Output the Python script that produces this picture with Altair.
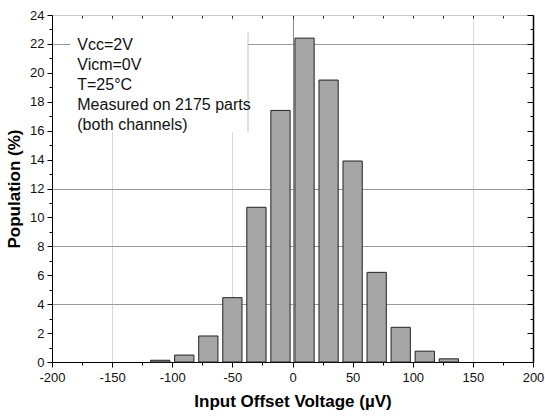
import altair as alt
import pandas as pd

# Histogram data
centers = [-110, -90, -70, -50, -30, -10, 10, 30, 50, 70, 90, 110, 130]
population = [0.12, 0.48, 1.8, 4.45, 10.7, 17.4, 22.4, 19.5, 13.9, 6.2, 2.4, 0.75, 0.22]
half_bin = 8

x_ticks = list(range(-200, 201, 25))
y_ticks = list(range(0, 25))

annotation_lines = ["Vcc=2V", "Vicm=0V", "T=25°C", "Measured on 2175 parts", "(both channels)"]
# annotation box extents (data units)
box_x = [-185, -37]
box_y = [15.9, 23.6]

df = pd.DataFrame({"center": centers, "pop": population})
box_df = pd.DataFrame({"x0": [box_x[0]], "x1": [box_x[1]], "y0": [box_y[0]], "y1": [box_y[1]]})

FONT = "Liberation Sans"
W, H = 481, 347


def xscale():
    return alt.Scale(domain=[-200, 200], nice=False, zero=False)


def yscale():
    return alt.Scale(domain=[0, 24], nice=False, zero=False)


bottom_axis = alt.Axis(
    orient="bottom",
    values=x_ticks,
    labelExpr="datum.value % 50 === 0 ? '' + datum.value : ''",
    tickSize={"condition": {"test": "datum.value % 50 === 0", "value": 5}, "value": 3},
    tickColor="black", domainColor="black", labelColor="#111",
    labelFont=FONT, labelFontSize=13, labelPadding=4,
    title="Input Offset Voltage (µV)", titleFont=FONT, titleFontSize=17,
    titleFontWeight="bold", titleColor="black", titlePadding=9,
    grid=True,
    gridColor={"condition": {"test": "datum.value === 0", "value": "#8a8a8a"}, "value": "#d9d9d9"},
    gridOpacity={"condition": {"test": "indexof([-150, -50, 0, 150], datum.value) >= 0", "value": 1}, "value": 0},
    labelFlush=False,
)
left_axis = alt.Axis(
    orient="left",
    values=y_ticks,
    labelExpr="datum.value % 2 === 0 ? '' + datum.value : ''",
    tickSize={"condition": {"test": "datum.value % 2 === 0", "value": 5}, "value": 3},
    tickColor="black", domainColor="black", labelColor="#111",
    labelFont=FONT, labelFontSize=13, labelPadding=3,
    title="Population (%)", titleFont=FONT, titleFontSize=17,
    titleFontWeight="bold", titleColor="black", titlePadding=6,
    grid=True, gridColor="#9a9a9a",
    gridOpacity={"condition": {"test": "indexof([4, 8, 12, 22], datum.value) >= 0", "value": 1}, "value": 0},
    labelFlush=False,
)
# mirrored frame axes: placed on the opposite edge so their ticks point inward
top_axis = alt.Axis(orient="bottom", offset=-H, values=x_ticks, labels=False, grid=False,
                    domain=True, domainColor="#c8c8c8", tickSize=3, tickColor="#222", title=None)
right_axis = alt.Axis(orient="left", offset=-W, values=y_ticks, labels=False, grid=False,
                      domain=True, domainColor="black", domainWidth=1.5,
                      tickSize={"condition": {"test": "datum.value % 2 === 0", "value": 6}, "value": 3},
                      tickColor="black", title=None)

bars = alt.Chart(df).transform_calculate(
    x0=f"datum.center - {half_bin}", x1=f"datum.center + {half_bin}", base="0"
).mark_bar(fill="#a6a6a6", stroke="#222", strokeWidth=1).encode(
    x=alt.X("x0:Q", scale=xscale(), axis=bottom_axis),
    x2="x1:Q",
    y=alt.Y("pop:Q", scale=yscale(), axis=left_axis),
    y2="base:Q",
)

box = alt.Chart(box_df).mark_rect(fill="white").encode(
    x=alt.X("x0:Q", scale=xscale(), axis=None), x2="x1:Q",
    y=alt.Y("y0:Q", scale=yscale(), axis=None), y2="y1:Q",
)
edge = alt.Chart(box_df).transform_calculate(ytop="22.8").mark_rule(color="#c4c4c4", strokeWidth=1).encode(
    x=alt.X("x1:Q", scale=xscale(), axis=None),
    y=alt.Y("y0:Q", scale=yscale(), axis=None), y2="ytop:Q",
)

note = alt.Chart(box_df).transform_calculate(x="-179", y="22.45").mark_text(
    align="left", baseline="top", font=FONT, fontSize=16, lineHeight=20, color="#111", lineBreak="\n"
).encode(
    x=alt.X("x:Q", scale=xscale(), axis=None),
    y=alt.Y("y:Q", scale=yscale(), axis=None),
    text=alt.value("\n".join(annotation_lines)),
)

mirror = alt.Chart(df).mark_point(opacity=0).encode(
    x=alt.X("center:Q", scale=xscale(), axis=top_axis),
    y=alt.Y("pop:Q", scale=yscale(), axis=right_axis),
)

chart = alt.layer(bars, box, edge, note, mirror).resolve_scale(
    x="independent", y="independent"
).resolve_axis(
    x="independent", y="independent"
).properties(
    width=W, height=H,
    autosize=alt.AutoSizeParams(type="none"),
    padding={"left": 52, "top": 15, "right": 12, "bottom": 54},
    background="white",
).configure_view(strokeWidth=0)

chart.save("out.html", embed_options={"renderer": "svg", "actions": False})
